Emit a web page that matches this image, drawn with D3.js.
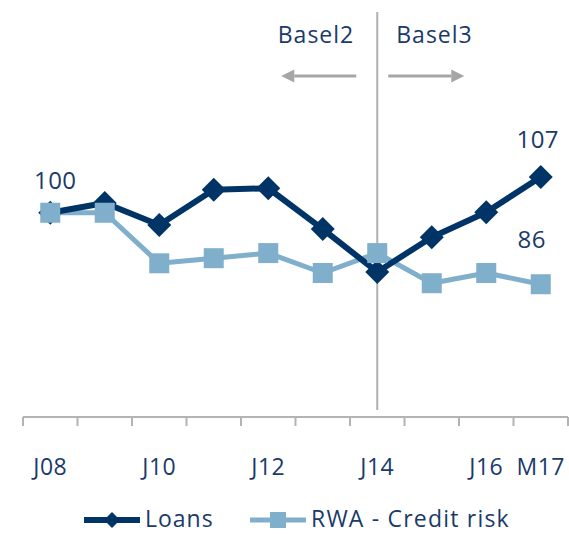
<!DOCTYPE html>
<html>
<head>
<meta charset="utf-8">
<script src="https://cdn.jsdelivr.net/npm/d3@7"></script>
<style>
  html, body { margin: 0; padding: 0; background: #fff; }
  svg { display: block; font-family: "Open Sans", "Lato", sans-serif; }
</style>
</head>
<body>
<svg id="chart" width="569" height="534"></svg>
<script>
const categories = ["J08", "J09", "J10", "J11", "J12", "J13", "J14", "J15", "J16", "M17"];
const tickLabels = ["J08", "", "J10", "", "J12", "", "J14", "", "J16", "M17"];
const loans = [100, 101.9, 97.6, 104.5, 104.8, 96.8, 88.4, 95.2, 100.1, 107];
const rwa = [100, 100, 90.1, 91.1, 92.1, 88.2, 92.1, 86.2, 88.2, 86];
const seriesNames = ["Loans", "RWA - Credit risk"];
const valueLabels = [
  { series: "Loans", index: 0, text: "100" },
  { series: "Loans", index: 9, text: "107" },
  { series: "RWA - Credit risk", index: 9, text: "86" }
];
const dividerCategory = "J14";

const darkBlue = "#003466";
const lightBlue = "#80afcc";
const textColor = "#1a3a6a";
const grey = "#a6a6a6";

const svg = d3.select("#chart");
const x = d3.scaleBand().domain(categories).range([23, 568]).padding(0);
const y = d3.scaleLinear().domain([60, 140]).range([417, 8.5]);
const cx = c => x(c) + x.bandwidth() / 2;

// Axis
const axisG = svg.append("g").attr("transform", "translate(0,417)");
axisG.append("line").attr("x1", x.range()[0]).attr("x2", x.range()[1])
  .attr("stroke", "#b3b3b3").attr("stroke-width", 2);
const bounds = categories.map(c => x(c)).concat([x.range()[1]]);
axisG.selectAll("line.tick").data(bounds).join("line").attr("class", "tick")
  .attr("x1", d => d).attr("x2", d => d).attr("y1", 0).attr("y2", 9)
  .attr("stroke", "#b3b3b3").attr("stroke-width", 2);
axisG.selectAll("text.lbl").data(categories).join("text").attr("class", "lbl")
  .attr("x", d => cx(d)).attr("y", 58)
  .attr("text-anchor", "middle").attr("fill", textColor).attr("font-size", 23)
  .attr("letter-spacing", 0.5)
  .text((d, i) => tickLabels[i]);

// Divider
const dx = cx(dividerCategory);
svg.append("line").attr("x1", dx).attr("x2", dx).attr("y1", 12).attr("y2", 410)
  .attr("stroke", "#b0b0b0").attr("stroke-width", 2);

// Basel labels & arrows
svg.append("text").attr("x", dx - 23).attr("y", 43).attr("text-anchor", "end")
  .attr("fill", textColor).attr("font-size", 23).attr("letter-spacing", 1).text("Basel2");
svg.append("text").attr("x", dx + 19).attr("y", 43).attr("text-anchor", "start")
  .attr("fill", textColor).attr("font-size", 23).attr("letter-spacing", 1).text("Basel3");
const arrowY = 76;
function arrow(x1, x2) {
  const dir = Math.sign(x2 - x1);
  const headLen = 13;
  svg.append("line").attr("x1", x1).attr("x2", x2 - dir * headLen).attr("y1", arrowY).attr("y2", arrowY)
    .attr("stroke", grey).attr("stroke-width", 3);
  svg.append("path")
    .attr("d", `M${x2},${arrowY} L${x2 - dir * headLen},${arrowY - 6.5} L${x2 - dir * headLen},${arrowY + 6.5} Z`)
    .attr("fill", grey);
}
arrow(dx - 21, dx - 96);
arrow(dx + 11, dx + 87);

// Lines
const line = d3.line().x((d, i) => cx(categories[i])).y(d => y(d));
svg.append("path").datum(rwa).attr("d", line).attr("fill", "none")
  .attr("stroke", lightBlue).attr("stroke-width", 5).attr("stroke-linejoin", "round");
svg.append("path").datum(loans).attr("d", line).attr("fill", "none")
  .attr("stroke", darkBlue).attr("stroke-width", 6).attr("stroke-linejoin", "round");

// Markers
const diamond = (cxv, cyv, r) => `M${cxv},${cyv - r} L${cxv + r},${cyv} L${cxv},${cyv + r} L${cxv - r},${cyv} Z`;
svg.selectAll("path.dia").data(loans).join("path").attr("class", "dia")
  .attr("d", (d, i) => diamond(cx(categories[i]), y(d), 12))
  .attr("fill", darkBlue);
svg.selectAll("rect.sq").data(rwa).join("rect").attr("class", "sq")
  .attr("x", (d, i) => cx(categories[i]) - 10).attr("y", d => y(d) - 10)
  .attr("width", 20).attr("height", 20).attr("fill", lightBlue);

// Value labels
const seriesData = { "Loans": loans, "RWA - Credit risk": rwa };
const labelOffsets = { "100": [5, -24], "107": [-3, -29], "86": [-9, -36] };
valueLabels.forEach(l => {
  const v = seriesData[l.series][l.index];
  const off = labelOffsets[l.text];
  svg.append("text").attr("x", cx(categories[l.index]) + off[0]).attr("y", y(v) + off[1])
    .attr("text-anchor", "middle").attr("fill", textColor).attr("font-size", 24)
    .attr("letter-spacing", 0.5).text(l.text);
});

// Legend
const legY = 520;
const lg = svg.append("g");
lg.append("line").attr("x1", 84).attr("x2", 140).attr("y1", legY).attr("y2", legY)
  .attr("stroke", darkBlue).attr("stroke-width", 6);
lg.append("path").attr("d", diamond(112, legY, 8)).attr("fill", darkBlue);
lg.append("text").attr("x", 145).attr("y", legY + 7).attr("fill", textColor).attr("font-size", 23)
  .attr("letter-spacing", 1).text(seriesNames[0]);
lg.append("line").attr("x1", 250).attr("x2", 306).attr("y1", legY).attr("y2", legY)
  .attr("stroke", lightBlue).attr("stroke-width", 5);
lg.append("rect").attr("x", 270).attr("y", legY - 8).attr("width", 16).attr("height", 16).attr("fill", lightBlue);
lg.append("text").attr("x", 311).attr("y", legY + 7).attr("fill", textColor).attr("font-size", 23)
  .attr("letter-spacing", 1.2).text(seriesNames[1]);
</script>
</body>
</html>
